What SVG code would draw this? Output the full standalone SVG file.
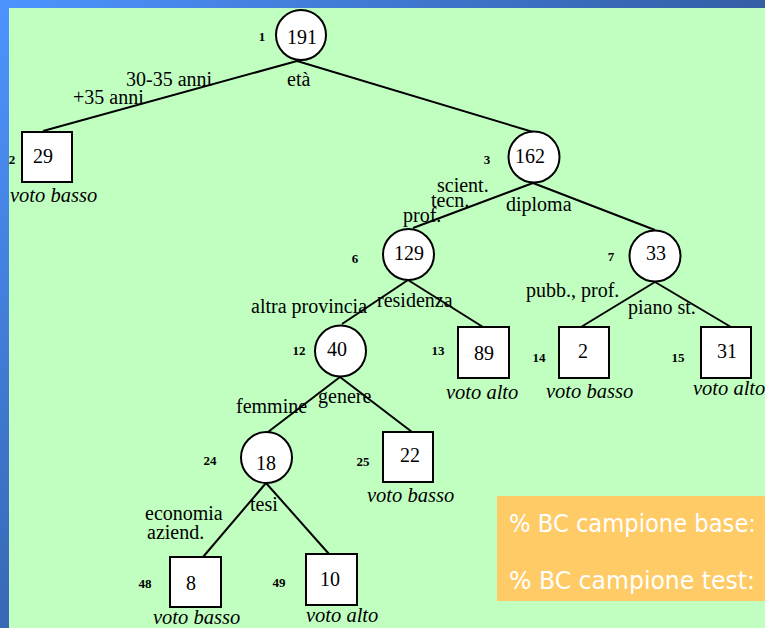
<svg xmlns="http://www.w3.org/2000/svg" width="765" height="628" viewBox="0 0 765 628">
<defs>
<linearGradient id="bg" gradientUnits="userSpaceOnUse" x1="0" y1="0" x2="560" y2="560">
<stop offset="0" stop-color="#4d94ff"/>
<stop offset="1" stop-color="#27467c"/>
</linearGradient>
<style>
.e{stroke:#000;stroke-width:2;fill:none}
.n{fill:#fff;stroke:#000;stroke-width:2}
.v{font-family:"Liberation Serif",serif;font-size:20px;fill:#000;text-anchor:middle}
.i{font-family:"Liberation Serif",serif;font-size:13px;font-weight:bold;fill:#000;text-anchor:middle}
.l{font-family:"Liberation Serif",serif;font-size:20px;fill:#000}
.c{font-family:"Liberation Serif",serif;font-size:20.5px;font-style:italic;fill:#000}
.o{font-family:"Comic Sans MS","DejaVu Sans",sans-serif;font-size:24px;fill:#fff}
</style>
</defs>
<rect x="0" y="0" width="765" height="628" fill="url(#bg)"/>
<rect x="9" y="8" width="756" height="620" fill="#c0ffc0"/>
<g id="connectors">
<line class="e" x1="297" y1="61" x2="43" y2="131"/>
<line class="e" x1="297" y1="61" x2="533" y2="132"/>
<line class="e" x1="533" y1="183" x2="413" y2="228"/>
<line class="e" x1="533" y1="183" x2="655" y2="230"/>
<line class="e" x1="408" y1="280" x2="342" y2="324"/>
<line class="e" x1="408" y1="280" x2="483" y2="327"/>
<line class="e" x1="655" y1="282" x2="581" y2="327"/>
<line class="e" x1="655" y1="282" x2="731" y2="327"/>
<line class="e" x1="340" y1="377" x2="268" y2="432"/>
<line class="e" x1="340" y1="377" x2="412" y2="432"/>
<line class="e" x1="266" y1="483" x2="203" y2="557"/>
<line class="e" x1="266" y1="483" x2="329" y2="554"/>
</g>
<g id="edge-labels">
<text class="l" x="126" y="86">30-35 anni</text>
<text class="l" x="73" y="104">+35 anni</text>
<text class="l" x="287" y="86">età</text>
<text class="l" x="437" y="192">scient.</text>
<text class="l" x="431" y="207">tecn.</text>
<text class="l" x="403" y="222">prof.</text>
<text class="l" x="506" y="211">diploma</text>
<text class="l" x="526" y="297">pubb., prof.</text>
<text class="l" x="628" y="314">piano st.</text>
<text class="l" x="251" y="313">altra provincia</text>
<text class="l" x="377" y="307">residenza</text>
<text class="l" x="236" y="413">femmine</text>
<text class="l" x="318" y="403">genere</text>
<text class="l" x="250" y="511">tesi</text>
<text class="l" x="145" y="520">economia</text>
<text class="l" x="147" y="539">aziend.</text>
</g>
<g id="node1"><circle class="n" cx="301" cy="35" r="25"/><text class="v" x="302" y="44">191</text><text class="i" x="262" y="41">1</text></g>
<g id="node2"><rect class="n" x="22" y="132" width="50" height="50"/><text class="v" x="43" y="163">29</text><text class="i" x="12" y="164">2</text><text class="c" x="10" y="202">voto basso</text></g>
<g id="node3"><circle class="n" cx="534" cy="157" r="25.5"/><text class="v" x="530" y="163">162</text><text class="i" x="487" y="164">3</text></g>
<g id="node6"><circle class="n" cx="408.5" cy="254.5" r="25.5"/><text class="v" x="409" y="260">129</text><text class="i" x="355" y="263">6</text></g>
<g id="node7"><circle class="n" cx="655" cy="256" r="25.5"/><text class="v" x="656" y="260">33</text><text class="i" x="611" y="261">7</text></g>
<g id="node12"><circle class="n" cx="340.5" cy="351" r="25.5"/><text class="v" x="337" y="356">40</text><text class="i" x="299" y="355">12</text></g>
<g id="node13"><rect class="n" x="458" y="327" width="51" height="51"/><text class="v" x="484" y="360">89</text><text class="i" x="438" y="355">13</text><text class="c" x="446" y="399">voto alto</text></g>
<g id="node14"><rect class="n" x="559" y="327" width="50" height="51"/><text class="v" x="583" y="358">2</text><text class="i" x="539" y="362">14</text><text class="c" x="546" y="398">voto basso</text></g>
<g id="node15"><rect class="n" x="701" y="327" width="50" height="51"/><text class="v" x="727" y="358">31</text><text class="i" x="678" y="362">15</text><text class="c" x="693" y="395">voto alto</text></g>
<g id="node24"><circle class="n" cx="266.5" cy="457.5" r="25.5"/><text class="v" x="266" y="470">18</text><text class="i" x="210" y="465">24</text></g>
<g id="node25"><rect class="n" x="383" y="432" width="50" height="50"/><text class="v" x="410" y="462">22</text><text class="i" x="363" y="466">25</text><text class="c" x="367" y="502">voto basso</text></g>
<g id="node48"><rect class="n" x="170" y="557" width="51" height="50"/><text class="v" x="191" y="590">8</text><text class="i" x="145" y="588">48</text><text class="c" x="153" y="624">voto basso</text></g>
<g id="node49"><rect class="n" x="306" y="554" width="51" height="51"/><text class="v" x="330" y="586">10</text><text class="i" x="279" y="587">49</text><text class="c" x="306" y="622">voto alto</text></g>
<g id="legend">
<rect x="497" y="496" width="268" height="105" fill="#ffcb66"/>
<text class="o" x="509" y="532" textLength="247" lengthAdjust="spacingAndGlyphs">% BC campione base:</text>
<text class="o" x="509" y="589" textLength="246" lengthAdjust="spacingAndGlyphs">% BC campione test:</text>
</g>
</svg>
